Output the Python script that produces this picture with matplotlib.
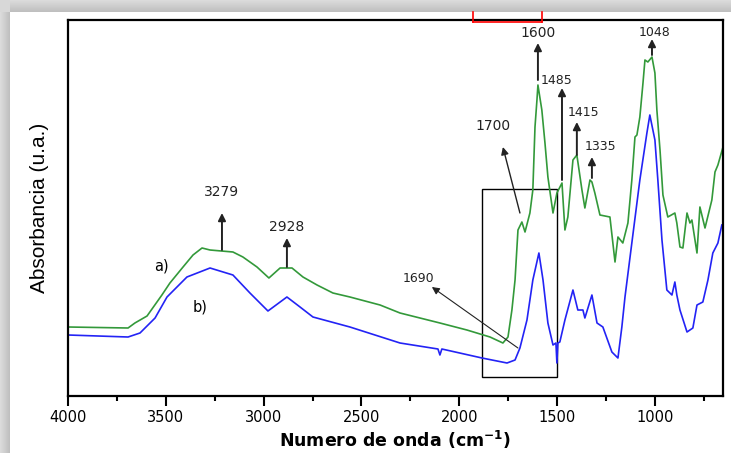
import numpy as np
import matplotlib
matplotlib.use('Agg')
import matplotlib.pyplot as plt
from matplotlib import font_manager
from matplotlib.patches import Rectangle
from matplotlib.lines import Line2D
from matplotlib.ticker import MultipleLocator

# spectrum a) (green)
wn_a = [4000, 3693, 3658, 3596, 3520, 3479, 3412, 3361, 3315, 3274, 3157, 3106, 3034, 2973,
        2916, 2855, 2799, 2727, 2646, 2559, 2405, 2303, 2099, 1961, 1843, 1777, 1751, 1731,
        1715, 1700, 1680, 1664, 1639, 1624, 1613, 1603, 1598, 1578, 1562, 1547, 1521, 1501,
        1475, 1460, 1445, 1419, 1399, 1373, 1358, 1332, 1322, 1307, 1281, 1230, 1204, 1189,
        1164, 1138, 1118, 1102, 1092, 1077, 1061, 1051, 1036, 1015, 1000, 990, 974, 959,
        934, 898, 888, 872, 857, 836, 821, 811, 785, 770, 744, 709, 693, 678, 652]
abs_a = [0.69, 0.68, 0.73, 0.80, 1.01, 1.13, 1.29, 1.41, 1.48, 1.46, 1.44, 1.39, 1.29, 1.18,
         1.28, 1.28, 1.19, 1.11, 1.03, 0.99, 0.91, 0.83, 0.73, 0.66, 0.59, 0.53, 0.59, 0.86,
         1.16, 1.66, 1.74, 1.64, 1.83, 2.06, 2.69, 2.96, 3.11, 2.86, 2.53, 2.19, 1.83, 2.03,
         2.13, 1.66, 1.79, 2.36, 2.41, 2.06, 1.88, 2.16, 2.14, 2.03, 1.81, 1.79, 1.34, 1.59,
         1.53, 1.73, 2.16, 2.59, 2.61, 2.79, 3.13, 3.36, 3.34, 3.39, 3.23, 2.86, 2.46, 2.01,
         1.79, 1.83, 1.73, 1.49, 1.48, 1.83, 1.73, 1.76, 1.43, 1.89, 1.68, 1.96, 2.24, 2.31, 2.49]

# spectrum b) (blue)
wn_b = [4000, 3693, 3632, 3555, 3494, 3392, 3274, 3157, 3070, 2978, 2881, 2814, 2748, 2559,
        2303, 2109, 2099, 2089, 1884, 1756, 1715, 1690, 1654, 1624, 1593, 1572, 1547, 1521,
        1506, 1501, 1496, 1486, 1460, 1419, 1394, 1368, 1358, 1322, 1296, 1266, 1220, 1189,
        1169, 1153, 1118, 1077, 1041, 1026, 1000, 985, 964, 939, 913, 898, 888, 872, 836,
        806, 785, 755, 729, 704, 678, 658]
abs_b = [0.61, 0.59, 0.63, 0.78, 0.99, 1.19, 1.28, 1.21, 1.03, 0.85, 0.99, 0.89, 0.79, 0.69,
         0.53, 0.47, 0.41, 0.47, 0.38, 0.33, 0.36, 0.48, 0.76, 1.16, 1.43, 1.16, 0.73, 0.51,
         0.53, 0.33, 0.53, 0.54, 0.76, 1.06, 0.86, 0.86, 0.78, 1.01, 0.73, 0.69, 0.44, 0.38,
         0.69, 0.99, 1.53, 2.16, 2.63, 2.81, 2.56, 2.16, 1.56, 1.06, 1.01, 1.14, 1.01, 0.86, 0.64,
         0.68, 0.91, 0.94, 1.16, 1.43, 1.53, 1.71]

# peak labels: text, arrow x, arrow tail y, arrow tip y, text x, text y, size
peak_labels = ['3279', '2928', '1600', '1485', '1415', '1335', '1048']
peak_x = [3213, 2881, 1598, 1475, 1399, 1322, 1015]
peak_tail = [1.46, 1.29, 3.16, 2.16, 2.41, 2.18, 3.41]
peak_tip = [1.83, 1.58, 3.53, 3.08, 2.74, 2.39, 3.57]
label_x = [3213, 2881, 1598, 1501, 1363, 1276, 1000]
label_y = [2.04, 1.69, 3.63, 3.16, 2.84, 2.50, 3.64]
label_size = [10, 10, 10, 9, 9, 9, 9]

available = set(f.name for f in font_manager.fontManager.ttflist)
narrow = 'Liberation Sans Narrow' if 'Liberation Sans Narrow' in available else 'Liberation Sans'

fig = plt.figure(figsize=(7.31, 4.53), dpi=100)

# drop-shadow frame around the white panel
bg = fig.add_axes([0, 0, 1, 1], zorder=-10)
H, W = 453, 731
img = np.ones((H, W, 3))
rows = np.arange(H)[:, None] * np.ones((1, W))
cols = np.ones((H, 1)) * np.arange(W)[None, :]
top = rows < 12
left = cols < 10
shade = np.ones((H, W))
shade[top] = 0.86 - 0.12 * (rows[top] / 12.0)
shade[left & ~top] = 0.86 - 0.12 * (cols[left & ~top] / 10.0)
shade[top & left] = 0.85
img *= shade[:, :, None]
bg.imshow(img, aspect='auto', extent=[0, 1, 0, 1], interpolation='bilinear')
bg.set_axis_off()

# clipped red box at the top of the screenshot
for (x0, y0, x1, y1) in [(473, 12, 473, 22), (473, 22, 542, 22), (542, 12, 542, 22)]:
    fig.add_artist(Line2D([x0 / W, x1 / W], [1 - y0 / H, 1 - y1 / H], color='red', lw=1.2))

ax = fig.add_axes([68 / W, 1 - 396 / H, (723 - 68) / W, (396 - 20) / H])
ax.plot(wn_a, abs_a, color='#33993a', lw=1.2)
ax.plot(wn_b, abs_b, color='#2323f5', lw=1.2)

ax.set_xlim(4000, 652)
ax.set_ylim(0, 3.76)
ax.xaxis.set_major_locator(MultipleLocator(500))
ax.xaxis.set_minor_locator(MultipleLocator(250))
ax.tick_params(axis='x', which='major', direction='out', length=7, width=1.5,
               labelsize=10.5, pad=3)
ax.tick_params(axis='x', which='minor', direction='out', length=3.5, width=1.5)
ax.tick_params(axis='y', left=False, labelleft=False)
for s in ax.spines.values():
    s.set_linewidth(1.6)

ax.set_xlabel(r'Numero de onda (cm$^{\mathbf{-1}}$)', fontsize=12.5, fontweight='bold', labelpad=3)
ax.set_ylabel('Absorbancia (u.a.)', fontsize=15, family=narrow, labelpad=14)

for lab, x, y0, y1, tx, ty, fs in zip(peak_labels, peak_x, peak_tail, peak_tip,
                                       label_x, label_y, label_size):
    ax.annotate('', xy=(x, y1), xytext=(x, y0),
                arrowprops=dict(arrowstyle='-|>', color='#222222', lw=1.4, mutation_scale=11,
                                shrinkA=0, shrinkB=0))
    ax.text(tx, ty, lab, fontsize=fs, ha='center', va='center', color='#222222')

# slanted arrows for 1700 and 1690
ax.annotate('', xy=(1777, 2.49), xytext=(1690, 1.83),
            arrowprops=dict(arrowstyle='-|>', color='#222222', lw=1.0, mutation_scale=11,
                            shrinkA=0, shrinkB=0))
ax.text(1828, 2.70, '1700', fontsize=10, ha='center', va='center', color='#222222')
ax.annotate('', xy=(2140, 1.09), xytext=(1700, 0.48),
            arrowprops=dict(arrowstyle='-|>', color='#222222', lw=0.8, mutation_scale=11,
                            shrinkA=0, shrinkB=0))
ax.text(2211, 1.18, '1690', fontsize=9, ha='center', va='center', color='#222222')

ax.text(3520, 1.30, 'a)', fontsize=10.5, ha='center', va='center')
ax.text(3325, 0.89, 'b)', fontsize=10.5, ha='center', va='center')

ax.add_patch(Rectangle((1884, 0.19), 1501 - 1884, 2.07 - 0.19, fill=False,
                       edgecolor='black', lw=1.0))

fig.savefig('out.png', dpi=100)
